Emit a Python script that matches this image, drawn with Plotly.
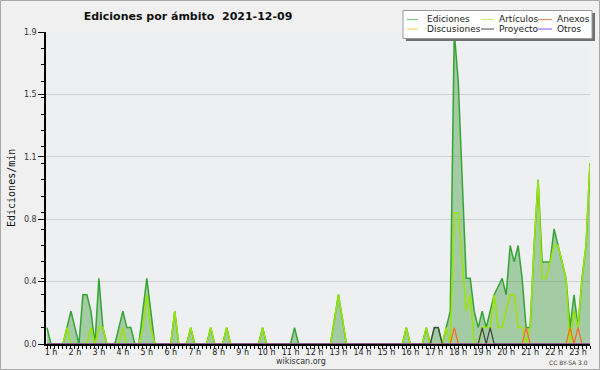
import plotly.graph_objects as go

# ---------------- data (edits per minute, 10-minute slots) ----------------
FIRST_SLOT = 5          # first slot = 00:50 (slot index in tenths of hour/6)
DATE = "2021-12-09"
TITLE = "Ediciones por ámbito\u00a0\u00a0" + DATE

hour_ticks = list(range(1, 24))
hour_labels = [f"{h} h" for h in hour_ticks]

y_tick_vals = [0.0, 0.38, 0.76, 1.14, 1.52, 1.9]
y_tick_text = ["0.0", "0.4", "0.8", "1.1", "1.5", "1.9"]

ediciones = [
    0.1,
    0, 0, 0, 0, 0.1, 0.2,
    0.1, 0, 0.3, 0.3, 0.2, 0,
    0.4, 0.1, 0, 0, 0, 0.1,
    0.2, 0.1, 0.1, 0, 0, 0.2,
    0.4, 0.2, 0, 0, 0, 0,
    0, 0.2, 0, 0, 0, 0.1,
    0, 0, 0, 0, 0.1, 0,
    0, 0, 0.1, 0, 0, 0,
    0, 0, 0, 0, 0, 0.1,
    0, 0, 0, 0, 0, 0,
    0, 0.1, 0, 0, 0, 0,
    0, 0, 0, 0, 0, 0.15,
    0.3, 0.15, 0, 0, 0, 0,
    0, 0, 0, 0, 0, 0,
    0, 0, 0, 0, 0, 0.1,
    0, 0, 0, 0, 0.1, 0,
    0.1, 0.1, 0, 0.1, 0.2, 1.9,
    1.6, 1.0, 0.4, 0.4, 0.2, 0.1,
    0.2, 0.1, 0.2, 0.3, 0.35, 0.4,
    0.3, 0.6, 0.5, 0.6, 0.4, 0.1,
    0.1, 0.6, 1.0, 0.5, 0.5, 0.5,
    0.7, 0.6, 0.5, 0.4, 0.1, 0.3,
    0.1, 0.4, 0.6, 1.1,
]

articulos = [
    0,
    0, 0, 0, 0, 0.1, 0,
    0, 0, 0, 0, 0.1, 0,
    0.1, 0.1, 0, 0, 0, 0,
    0.1, 0, 0, 0, 0, 0.1,
    0.3, 0.1, 0, 0, 0, 0,
    0, 0.2, 0, 0, 0, 0.1,
    0, 0, 0, 0, 0.1, 0,
    0, 0, 0.1, 0, 0, 0,
    0, 0, 0, 0, 0, 0.1,
    0, 0, 0, 0, 0, 0,
    0, 0, 0, 0, 0, 0,
    0, 0, 0, 0, 0, 0.15,
    0.3, 0.15, 0, 0, 0, 0,
    0, 0, 0, 0, 0, 0,
    0, 0, 0, 0, 0, 0.1,
    0, 0, 0, 0, 0.1, 0,
    0, 0, 0, 0.1, 0, 0.8,
    0.8, 0.5, 0.2, 0.3, 0, 0,
    0.1, 0.1, 0.1, 0.3, 0.1, 0.1,
    0.2, 0.3, 0.3, 0.1, 0.1, 0,
    0.1, 0.6, 1.0, 0.4, 0.4, 0.5,
    0.6, 0.6, 0.5, 0.4, 0, 0.2,
    0.1, 0.4, 0.6, 1.1,
]

anexos = [
    0,
    0, 0, 0, 0, 0, 0,
    0, 0, 0, 0, 0, 0,
    0, 0, 0, 0, 0, 0,
    0, 0, 0, 0, 0, 0,
    0, 0, 0, 0, 0, 0,
    0, 0, 0, 0, 0, 0,
    0, 0, 0, 0, 0, 0,
    0, 0, 0, 0, 0, 0,
    0, 0, 0, 0, 0, 0,
    0, 0, 0, 0, 0, 0,
    0, 0, 0, 0, 0, 0,
    0, 0, 0, 0, 0, 0,
    0, 0, 0, 0, 0, 0,
    0, 0, 0, 0, 0, 0,
    0, 0, 0, 0, 0, 0,
    0, 0, 0, 0, 0, 0,
    0, 0, 0, 0, 0, 0.1,
    0, 0, 0, 0, 0, 0,
    0, 0, 0, 0, 0, 0,
    0, 0, 0, 0, 0, 0.1,
    0, 0, 0, 0, 0, 0,
    0, 0, 0, 0, 0.1, 0,
    0.1, 0, 0, 0,
]

discusiones = [
    0,
    0, 0, 0, 0, 0, 0,
    0, 0, 0, 0, 0, 0,
    0, 0, 0, 0, 0, 0,
    0, 0, 0, 0, 0, 0,
    0, 0, 0, 0, 0, 0,
    0, 0, 0, 0, 0, 0,
    0, 0, 0, 0, 0, 0,
    0, 0, 0, 0, 0, 0,
    0, 0, 0, 0, 0, 0,
    0, 0, 0, 0, 0, 0,
    0, 0, 0, 0, 0, 0,
    0, 0, 0, 0, 0, 0,
    0, 0, 0, 0, 0, 0,
    0, 0, 0, 0, 0, 0,
    0, 0, 0, 0, 0, 0,
    0, 0, 0, 0, 0, 0,
    0, 0, 0, 0, 0, 0,
    0, 0, 0, 0, 0, 0,
    0, 0, 0, 0, 0, 0,
    0, 0, 0, 0, 0, 0,
    0, 0, 0, 0, 0, 0,
    0, 0, 0, 0, 0, 0,
    0, 0, 0, 0,
]

proyecto = [
    0,
    0, 0, 0, 0, 0, 0,
    0, 0, 0, 0, 0, 0,
    0, 0, 0, 0, 0, 0,
    0, 0, 0, 0, 0, 0,
    0, 0, 0, 0, 0, 0,
    0, 0, 0, 0, 0, 0,
    0, 0, 0, 0, 0, 0,
    0, 0, 0, 0, 0, 0,
    0, 0, 0, 0, 0, 0,
    0, 0, 0, 0, 0, 0,
    0, 0, 0, 0, 0, 0,
    0, 0, 0, 0, 0, 0,
    0, 0, 0, 0, 0, 0,
    0, 0, 0, 0, 0, 0,
    0, 0, 0, 0, 0, 0,
    0, 0, 0, 0, 0, 0,
    0.1, 0.1, 0, 0, 0, 0,
    0, 0, 0, 0, 0, 0,
    0.1, 0, 0.1, 0, 0, 0,
    0, 0, 0, 0, 0, 0,
    0, 0, 0, 0, 0, 0,
    0, 0, 0, 0, 0, 0,
    0, 0, 0, 0,
]

otros = list(discusiones)

series_names = ["Ediciones", "Artículos", "Anexos", "Discusiones", "Proyecto", "Otros"]
series_values = [ediciones, articulos, anexos, discusiones, proyecto, otros]
series_colors = ["#35a435", "#99e600", "#ff6a1e", "#f2cf30", "#444444", "#9040e0"]
legend_colors = ["#7cc87c", "#c8f078", "#f08a60", "#f5d860", "#666666", "#a070f0"]

# x position of every slot in hours
hours = [(FIRST_SLOT + k) / 6 for k in range(len(ediciones))]

# ---------------- figure ----------------
W, H = 600, 370
L, R, T, B = 46, 10, 32, 26
PW, PH = W - L - R, H - T - B


def px(x):
    return (x - L) / PW


def py(y):
    return (H - B - y) / PH


fig = go.Figure()

for i, (name, vals, col) in enumerate(zip(series_names, series_values, series_colors)):
    if i == 0:
        fig.add_trace(go.Scatter(
            x=hours, y=vals, name=name, mode="lines",
            line=dict(color=col, width=1.5),
            fill="tozeroy", fillcolor="rgba(70,160,70,0.45)",
            showlegend=False, hoverinfo="skip"))
    else:
        fig.add_trace(go.Scatter(
            x=hours, y=vals, name=name, mode="lines",
            line=dict(color=col, width=1.5 if i == 1 else 1.2),
            showlegend=False, hoverinfo="skip"))

shapes = []
annotations = []

# outer frame
shapes.append(dict(type="rect", xref="paper", yref="paper",
                   x0=px(0.5), x1=px(W - 0.5), y0=py(H - 0.5), y1=py(0.5),
                   line=dict(color="#a8a8a8", width=1), fillcolor="rgba(0,0,0,0)",
                   layer="below"))

# legend box (shadow + box)
shapes.append(dict(type="rect", xref="paper", yref="paper",
                   x0=px(406), x1=px(595), y0=py(41), y1=py(13),
                   line=dict(width=0), fillcolor="#707070", layer="above"))
shapes.append(dict(type="rect", xref="paper", yref="paper",
                   x0=px(403), x1=px(592), y0=py(38.5), y1=py(10.5),
                   line=dict(color="#9a9a9a", width=1), fillcolor="#ffffff", layer="above"))

col_line_x = [(407, 418), (481, 494), (538, 552)]
col_text_x = [425, 497, 555]
row_y = [19.5, 29]
for idx, name in enumerate(series_names):
    row, colno = (0, idx) if idx < 3 else (1, idx - 3)
    x0, x1 = col_line_x[colno]
    shapes.append(dict(type="line", xref="paper", yref="paper",
                       x0=px(x0), x1=px(x1), y0=py(row_y[row]), y1=py(row_y[row]),
                       line=dict(color=legend_colors[idx], width=1.2), layer="above"))
    annotations.append(dict(xref="paper", yref="paper", x=px(col_text_x[colno]), y=py(row_y[row]),
                            text=name, showarrow=False, xanchor="left", yanchor="middle",
                            font=dict(family="DejaVu Sans", size=9, color="#222222")))

# y axis title
annotations.append(dict(xref="paper", yref="paper", x=px(11), y=py(188),
                        text="Ediciones/min", textangle=-90, showarrow=False,
                        xanchor="center", yanchor="middle",
                        font=dict(family="DejaVu Sans Mono", size=10, color="#111111")))
# footer texts
annotations.append(dict(xref="paper", yref="paper", x=px(300.5), y=py(361.5),
                        text="wikiscan.org", showarrow=False, xanchor="center", yanchor="middle",
                        font=dict(family="DejaVu Sans", size=8, color="#333333")))
annotations.append(dict(xref="paper", yref="paper", x=px(590), y=py(362.5),
                        text="CC BY-SA 3.0", showarrow=False, xanchor="right", yanchor="middle",
                        font=dict(family="DejaVu Sans", size=6, color="#444444")))

minor_x = [(FIRST_SLOT + k) / 6 for k in range(len(ediciones))]
minor_y = [v / 10 for v in range(1, 19)]

fig.update_layout(
    width=W, height=H,
    margin=dict(l=L, r=R, t=T, b=B, autoexpand=False),
    paper_bgcolor="#f0f0f0",
    plot_bgcolor="#eeeff1",
    showlegend=False,
    title=dict(text=TITLE, x=188 / W, xref="container", xanchor="center",
               y=1 - 16 / H, yref="container", yanchor="middle",
               font=dict(family="DejaVu Sans", size=11, color="#111111", weight="bold")),
    xaxis=dict(
        range=[(L - 27) / 24, 23.5], showgrid=False, zeroline=False,
        showline=True, linecolor="black", linewidth=2,
        tickmode="array", tickvals=hour_ticks, ticktext=hour_labels,
        ticks="outside", ticklen=3, tickwidth=1, tickcolor="black",
        ticklabelstandoff=-4,
        tickfont=dict(family="DejaVu Sans", size=8, color="#222222"),
        minor=dict(tickmode="array", tickvals=minor_x, ticks="outside", ticklen=3,
                   tickwidth=1, tickcolor="black", showgrid=False),
        fixedrange=True,
    ),
    yaxis=dict(
        range=[0, 1.9], zeroline=False,
        showline=True, linecolor="black", linewidth=1.5,
        tickmode="array", tickvals=y_tick_vals, ticktext=y_tick_text,
        ticks="outside", ticklen=6, tickwidth=1, tickcolor="black",
        showgrid=True, gridcolor="#cfcfcf", gridwidth=1,
        tickfont=dict(family="DejaVu Sans", size=8, color="#333333"),
        minor=dict(tickmode="array", tickvals=minor_y, ticks="outside", ticklen=3,
                   tickwidth=1, tickcolor="black", showgrid=False),
        fixedrange=True,
    ),
    shapes=shapes,
    annotations=annotations,
)

fig.write_html("out.html", config={"displayModeBar": False},
               post_script="document.body.style.margin='0';document.body.style.overflow='hidden';")
